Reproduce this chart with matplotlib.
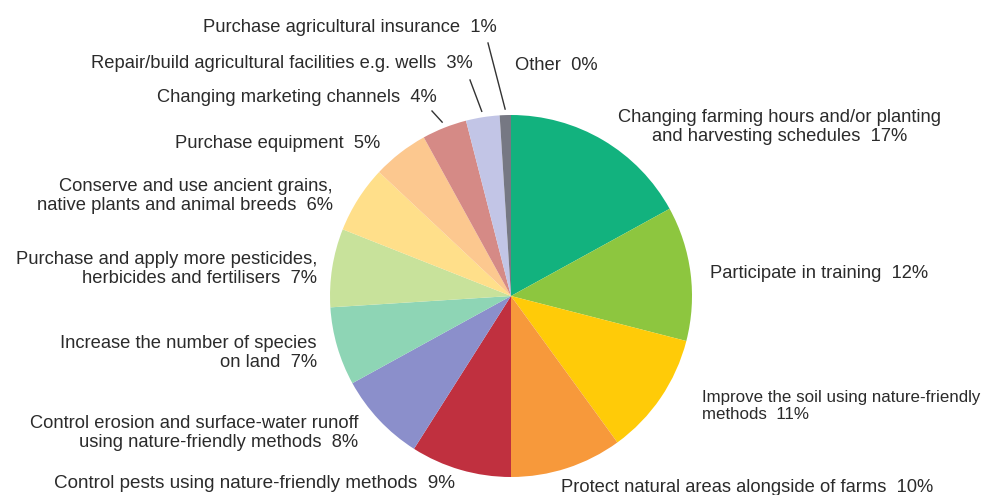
import numpy as np
import matplotlib.pyplot as plt

plt.rcParams['font.family'] = ['Liberation Sans', 'DejaVu Sans']

W, H = 987, 495

categories = [
    "Changing farming hours and/or planting\nand harvesting schedules",
    "Participate in training",
    "Improve the soil using nature-friendly\nmethods",
    "Protect natural areas alongside of farms",
    "Control pests using nature-friendly methods",
    "Control erosion and surface-water runoff\nusing nature-friendly methods",
    "Increase the number of species\non land",
    "Purchase and apply more pesticides,\nherbicides and fertilisers",
    "Conserve and use ancient grains,\nnative plants and animal breeds",
    "Purchase equipment",
    "Changing marketing channels",
    "Repair/build agricultural facilities e.g. wells",
    "Purchase agricultural insurance",
    "Other",
]
shares = [17, 12, 11, 10, 9, 8, 7, 7, 6, 5, 4, 3, 1, 0]

colors = ['#12b27e', '#8dc63f', '#ffcb08', '#f7993b', '#c0303f', '#8b8fcb',
          '#8ed5b5', '#c8e29b', '#ffdf8a', '#fcc88f', '#d58a86', '#c2c5e6',
          '#767883', '#555555']

# label anchor (pixel coords, y from top), alignment, font size
label_pos = [
    (780, 127, 'center', 13.2),
    (710, 273, 'left', 13.2),
    (702, 406, 'left', 12.2),
    (933, 487, 'right', 13.2),
    (455, 483, 'right', 13.6),
    (358, 433, 'right', 13.2),
    (317, 353, 'right', 13.2),
    (317, 269, 'right', 13.2),
    (333, 196, 'right', 13.2),
    (380, 143, 'right', 13.2),
    (437, 98, 'right', 13.2),
    (473, 63, 'right', 13.2),
    (497, 27, 'right', 13.2),
    (515, 65, 'left', 13.2),
]
# leader lines: (outer end in pixels) for small slices
leaders = {10: (432, 111), 11: (470, 80), 12: (488, 43)}

cx, cy, r = 511, 296, 181

fig = plt.figure(figsize=(W / 100, H / 100), dpi=100)
ax = fig.add_axes([0, 0, 1, 1])
ax.pie(shares, colors=colors, startangle=90, counterclock=False,
       center=(cx, H - cy), radius=r, wedgeprops=dict(linewidth=0))
ax.set_xlim(0, W)
ax.set_ylim(0, H)
ax.set_aspect('auto')
ax.axis('off')

total = sum(shares)
cum = np.cumsum([0] + shares[:-1])
for i, (name, v) in enumerate(zip(categories, shares)):
    x, y, ha, fs = label_pos[i]
    ax.text(x, H - y, f"{name}  {v}%", ha=ha, va='center', fontsize=fs,
            color='#2b2b2b', linespacing=1.15, multialignment=ha)
    if i in leaders:
        mid = np.deg2rad(90 - 360 * (cum[i] + v / 2) / total)
        x0 = cx + (r + 6) * np.cos(mid)
        y0 = cy - (r + 6) * np.sin(mid)
        x1, y1 = leaders[i]
        ax.plot([x0, x1], [H - y0, H - y1], color='#333333', lw=1)

fig.savefig('out.png', dpi=100)
